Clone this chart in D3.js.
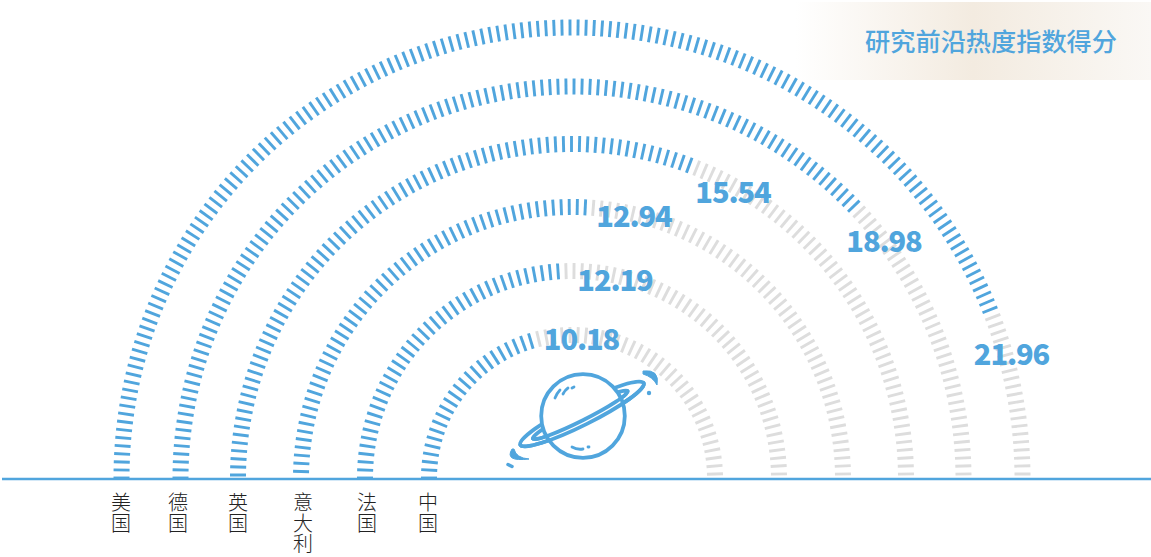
<!DOCTYPE html>
<html><head><meta charset="utf-8">
<script src="https://cdn.jsdelivr.net/npm/d3@7"></script>
<style>html,body{margin:0;padding:0;background:#fff}svg{display:block}</style></head>
<body><svg id="c" width="1151" height="557"></svg>
<script>
// data
const categories=["美国","德国","英国","意大利","法国","中国"];
const values=[21.96,18.98,15.54,12.94,12.19,10.18];
const valueLabels=["21.96","18.98","15.54","12.94","12.19","10.18"];
const maxValue=25;
const titleText="研究前沿热度指数得分";
// layout
const ringRadii=[450.5,391.5,334,271,207,143];
const ringStart=[0,0,3,6.5,0,0];
const labelAnchors=[[1011.5,354],[884,241],[733,192],[634,216],[615,280],[581.5,339]];
const categoryX=[121,178,238,303,367,428];
const BLUE="#50a5dd",GRAY="#dddddd";
const cx=572,cy=478;
const svg=d3.select("#c");
const defs=svg.append("defs");
const g=defs.append("linearGradient").attr("id","hd");
[[0,"#fff"],[.5,"#f3ebe0"],[1,"#faf8f5"]].forEach(d=>g.append("stop").attr("offset",d[0]).attr("stop-color",d[1]));
svg.append("rect").attr("x",795).attr("y",2).attr("width",356).attr("height",78).attr("fill","url(#hd)");
svg.append("text").attr("x",991).attr("y",50.5).attr("text-anchor","middle").attr("font-family","'Noto Sans CJK SC'").attr("font-size",25.2).attr("font-weight",500).attr("fill",BLUE).text(titleText);
const angle=d3.scaleLinear().domain([0,maxValue]).range([Math.PI,0]);
categories.forEach((c,i)=>{
  const r=ringRadii[i],len=Math.PI*r,s0=ringStart[i];
  const n=Math.round((len-4-s0)/8),step=(len-4-s0)/n;
  d3.range(n+1).forEach(k=>{
    const v=(s0+k*step)/len*maxValue,a=angle(v);
    svg.append("line")
      .attr("x1",cx+(r-8)*Math.cos(a)).attr("y1",cy-(r-8)*Math.sin(a))
      .attr("x2",cx+(r+8)*Math.cos(a)).attr("y2",cy-(r+8)*Math.sin(a))
      .attr("stroke",v<=values[i]?BLUE:GRAY).attr("stroke-width",2.9);
  });
});
svg.append("line").attr("x1",2).attr("x2",1151).attr("y1",479).attr("y2",479).attr("stroke",BLUE).attr("stroke-width",2.5);
categories.forEach((c,i)=>{
  const t=svg.append("text").attr("text-anchor","middle").attr("font-family","'Noto Sans CJK SC'").attr("font-weight",300).attr("font-size",20).attr("fill","#222");
  [...c].forEach((ch,k)=>t.append("tspan").attr("x",categoryX[i]).attr("y",510+k*20.6).text(ch));
});
valueLabels.forEach((s,i)=>{
  svg.append("text").attr("x",labelAnchors[i][0]).attr("y",labelAnchors[i][1]+11).attr("text-anchor","middle").attr("font-family","'Noto Sans CJK SC'").attr("font-weight",900).attr("font-size",29).attr("fill",BLUE).attr("letter-spacing",-1.1).text(s);
});
// planet icon
const p=svg.append("g").attr("fill","none").attr("stroke",BLUE).attr("stroke-width",3.8).attr("stroke-linecap","round");
const px=583,py=416;
const ringT=`translate(582,414) rotate(-26.6)`;
const ring=p.append("g").attr("transform",ringT);
ring.append("ellipse").attr("rx",69).attr("ry",11);
ring.append("ellipse").attr("cx",-2).attr("rx",53).attr("ry",6);
p.append("circle").attr("cx",px).attr("cy",py).attr("r",41.8).attr("fill","#fff");
const front=p.append("g").attr("transform",ringT);
front.append("path").attr("d","M-69,0A69,11 0 0 0 69,0");
front.append("path").attr("d","M-55,0A53,6 0 0 0 51,0");
p.append("path").attr("stroke-width",2.8).attr("d","M555,398Q557,393 560,390M563,394Q565,390 568,388M572,388L574,387");
p.append("path").attr("stroke-width",2.8).attr("d","M572,447Q577,450 583,449M588,447L589,447");
const sp=svg.append("g").attr("fill",BLUE);
sp.append("path").attr("d","M643,371Q660,369 657,385Q653,377 643,374Z").attr("stroke",BLUE).attr("stroke-width",1);
sp.append("circle").attr("cx",649).attr("cy",393).attr("r",2.2);
sp.append("path").attr("d","M512,449Q504,462 529,459Q516,458 514,449Z").attr("stroke",BLUE).attr("stroke-width",1);
svg.append("line").attr("x1",508).attr("y1",464.5).attr("x2",512).attr("y2",466.5).attr("stroke",BLUE).attr("stroke-width",3.5).attr("stroke-linecap","round");
</script></body></html>
